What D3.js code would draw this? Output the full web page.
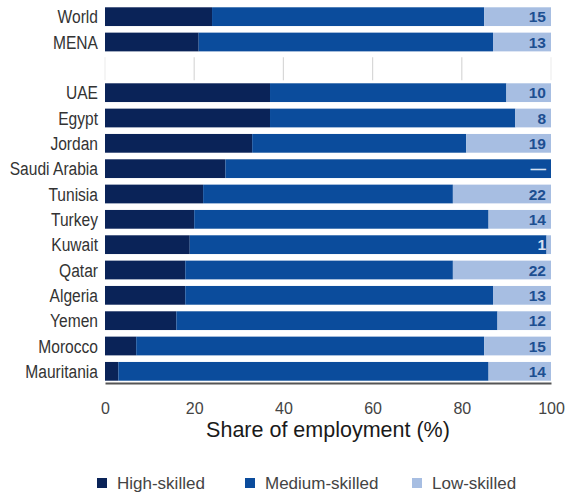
<!DOCTYPE html>
<html>
<head>
<meta charset="utf-8">
<script src="https://cdn.jsdelivr.net/npm/d3@7/dist/d3.min.js"></script>
<style>
  html, body { margin: 0; padding: 0; background: #fff; }
  svg { display: block; }
</style>
</head>
<body>
<svg id="chart" width="570" height="495"></svg>
<script>
// Employment shares by skill level (%), World and MENA aggregates then countries.
// An empty string in the category list marks the spacer row between the groups.
const categories = ["World", "MENA", "", "UAE", "Egypt", "Jordan", "Saudi Arabia", "Tunisia",
  "Turkey", "Kuwait", "Qatar", "Algeria", "Yemen", "Morocco", "Mauritania"];
const highSkilled   = [24, 21, null, 37, 37, 33, 27, 22, 20, 19, 18, 18, 16, 7, 3];
const mediumSkilled = [61, 66, null, 53, 55, 48, 73, 56, 66, 80, 60, 69, 72, 78, 83];
const lowSkilled    = [15, 13, null, 10, 8, 19, null, 22, 14, 1, 22, 13, 12, 15, 14];
const xTicks = [0, 20, 40, 60, 80, 100];
const seriesNames = ["High-skilled", "Medium-skilled", "Low-skilled"];
const seriesColors = ["#0a2358", "#0b4c9c", "#a7bee2"];

const svg = d3.select("#chart");
const margin = { left: 105, right: 19, top: 4 };
const width = 570;

const x = d3.scaleLinear().domain([0, 100]).range([margin.left, width - margin.right]);
const y = d3.scaleBand().domain(d3.range(categories.length))
  .range([4, 384]).paddingInner(0.26).paddingOuter(0.13);

// Light vertical gridlines, visible only in the spacer row
const gapIdx = categories.indexOf("");
svg.append("g").selectAll("line").data(xTicks).join("line")
  .attr("x1", d => x(d)).attr("x2", d => x(d))
  .attr("y1", y(gapIdx - 1) + y.bandwidth() + 6)
  .attr("y2", y(gapIdx + 1) - 3)
  .attr("stroke", d => (d === 0 || d === 100) ? "#eeeeee" : "#d8d8d8")
  .attr("stroke-width", 1.2);

// Stacked bars
const rows = categories.map((c, i) => ({
  i, name: c,
  vals: [highSkilled[i], mediumSkilled[i], lowSkilled[i]]
})).filter(r => r.name !== "");

const rowG = svg.append("g").selectAll("g").data(rows).join("g");
rowG.each(function (r) {
  let acc = 0;
  const segs = r.vals.map((v, k) => {
    const s = { k, x0: acc, x1: acc + (v || 0) };
    acc += (v || 0);
    return s;
  });
  d3.select(this).selectAll("rect").data(segs).join("rect")
    .attr("x", s => x(s.x0))
    .attr("width", s => x(s.x1) - x(s.x0))
    .attr("y", y(r.i))
    .attr("height", y.bandwidth())
    .attr("fill", s => seriesColors[s.k]);
});

// Low-skilled share labels at the right end of each bar;
// a light colour where the label sits on the medium-skilled segment
const onDark = r => r.vals[2] === null || r.vals[2] < 5;
rowG.append("text")
  .attr("x", x(100) - 5)
  .attr("y", r => y(r.i) + y.bandwidth() / 2)
  .attr("dy", "0.36em")
  .attr("text-anchor", "end")
  .attr("font-family", "'Liberation Sans', Arial, sans-serif")
  .attr("font-weight", "bold")
  .attr("font-size", 15.5)
  .attr("fill", r => onDark(r) ? "#d6e0f2" : "#1d4f91")
  .text(r => r.vals[2] === null ? "—" : r.vals[2]);

// Category labels, horizontally condensed
svg.append("g").selectAll("text").data(rows).join("text")
  .attr("transform", r => `translate(${x(0) - 7},${y(r.i) + y.bandwidth() / 2}) scale(0.82,1)`)
  .attr("dy", "0.35em")
  .attr("text-anchor", "end")
  .attr("font-family", "'Liberation Sans', Arial, sans-serif")
  .attr("font-size", 19)
  .attr("fill", "#333")
  .text(r => r.name);

// Bottom axis
const axisY = 383;
const axis = svg.append("g").attr("transform", `translate(0,${axisY})`)
  .call(d3.axisBottom(x).tickValues(xTicks).tickSize(0).tickPadding(20));
axis.select(".domain").attr("stroke", "#555").attr("stroke-width", 2);
axis.selectAll(".tick text")
  .attr("font-family", "'Liberation Sans', Arial, sans-serif")
  .attr("font-size", 16)
  .attr("fill", "#444");

svg.append("text")
  .attr("x", (x(0) + x(100)) / 2)
  .attr("y", 437)
  .attr("text-anchor", "middle")
  .attr("font-family", "'Liberation Sans', Arial, sans-serif")
  .attr("font-size", 21.5)
  .attr("fill", "#1a1a1a")
  .text("Share of employment (%)");

// Legend
const legendX = [97, 245, 412];
const legend = svg.append("g").selectAll("g").data(seriesNames).join("g")
  .attr("transform", (d, k) => `translate(${legendX[k]},478)`);
legend.append("rect").attr("width", 10).attr("height", 10)
  .attr("fill", (d, k) => seriesColors[k]);
legend.append("text")
  .attr("x", 20).attr("y", 5).attr("dy", "0.36em")
  .attr("font-family", "'Liberation Sans', Arial, sans-serif")
  .attr("font-size", 17)
  .attr("fill", "#444")
  .text(d => d);
</script>
</body>
</html>
